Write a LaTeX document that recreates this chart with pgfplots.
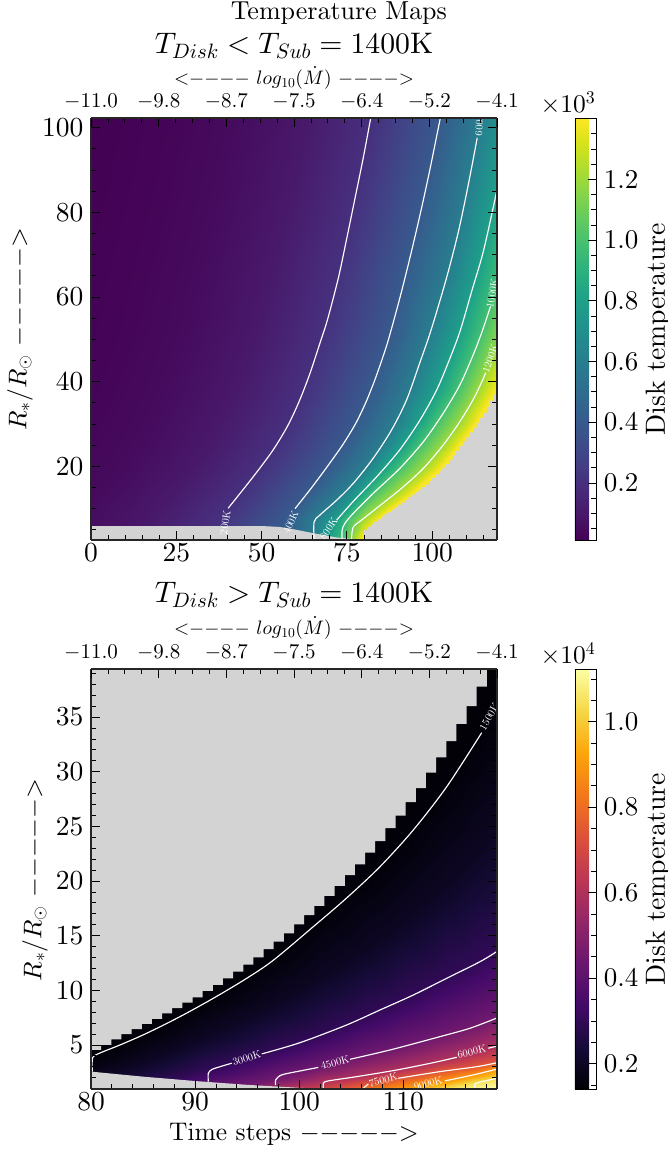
\RequirePackage{fix-cm}
\documentclass[border=0pt]{standalone}
\usepackage{pgfplots}
\pgfplotsset{compat=1.18}
\DeclareFontShape{OT1}{cmr}{m}{n}{<->cmr10}{}
\DeclareFontShape{OML}{cmm}{m}{it}{<->cmmi10}{}
\DeclareFontShape{OMS}{cmsy}{m}{n}{<->cmsy10}{}
\definecolor{bggray}{RGB}{211,211,211}
\pgfplotsset{colormap={inferno}{rgb255=(0,0,4) rgb255=(22,11,57) rgb255=(66,10,104) rgb255=(106,23,110) rgb255=(147,38,103) rgb255=(188,55,84) rgb255=(221,81,58) rgb255=(243,120,25) rgb255=(252,165,10) rgb255=(246,215,70) rgb255=(252,255,164)}}
\newcommand{\fs}[1]{\fontsize{#1}{#1}\usefont{OT1}{cmr}{m}{n}}
\newcommand{\dsh}{{-}}
\tikzset{clab/.style={white,font=\fs{10.5},inner sep=0pt}}
\pgfplotsset{
  panel/.style={
    scale only axis, width=406pt,
    tick align=inside,
    major tick length=9pt, minor tick length=5pt,
    every tick/.style={black,line width=0.9pt},
    minor tick style={black,line width=0.8pt},
    axis line style={line width=1.3pt,black!85},
    tick label style={font=\fs{27.5}},
    y tick label style={xshift=-4pt},
    label style={font=\fs{25.5}},
    title style={font=\fs{29.7}},
  },
  cbar/.style={
    colorbar, 
    colorbar style={
      at={(1.192,0)}, anchor=south west, width=21pt,
      tick align=inside, xtick=\empty,
      ytick pos=right, yticklabel pos=right,
      major tick length=8pt, minor tick length=5pt,
      every tick/.style={black,line width=0.8pt},
      minor tick style={black,line width=0.7pt},
      axis line style={line width=0.8pt},
      tick label style={font=\fs{27}},
      y tick label style={/pgf/number format/fixed,xshift=4.5pt},
      scaled y ticks=false,
      ylabel style={font=\fs{27.7},at={(axis description cs:3.95,0.5)},anchor=center,rotate=0},
      title style={font=\fs{25.5},at={(axis description cs:-0.33,1.0)},anchor=south,yshift=-6pt},
    }
  },
  cl/.style={white,line width=1.15pt,smooth,tension=0.5,no markers,forget plot},
  topax/.style={
    xmin=0,xmax=6,ymin=0,ymax=1,
    axis x line*=top, axis y line=none,
    xtick={0,1,2,3,4,5,6},
    xticklabels={$-11.0$,$-9.8$,$-8.7$,$-7.5$,$-6.4$,$-5.2$,$-4.1$},
    minor x tick num=3,
    x tick label style={font=\fs{21},yshift=5pt},
    xlabel={${<}\dsh\dsh\dsh\dsh$ $log_{10}(\dot{M})$ $\dsh\dsh\dsh\dsh{>}$},
  },
}
\begin{document}
\begin{tikzpicture}
\path[use as bounding box] (0pt,0pt) rectangle (668pt,1151pt);
\node[font=\fs{26}] at (339pt,1138pt) {Temperature Maps};

%====== TOP PANEL
\begin{axis}[panel, at={(91pt,611pt)}, anchor=south west, height=422pt,
  view={0}{90},
  xmin=0,xmax=119,ymin=2.6,ymax=102.3,
  xtick={0,25,50,75,100},
  minor xtick={5,10,15,20,30,35,40,45,55,60,65,70,80,85,90,95,105,110,115},
  ytick={20,40,60,80,100},
  minor ytick={5,10,15,25,30,35,45,50,55,65,70,75,85,90,95},
  xtick pos=lower, ytick pos=both, yticklabel pos=left,
  axis on top,
  title={$T_{Disk} < T_{Sub} = 1400$K},
  title style={at={(axis description cs:0.5,1.157)},anchor=center},
  ylabel={$R_{*}/R_{\odot}$ $\dsh\dsh\dsh\dsh\dsh{>}$},
  ylabel style={at={(axis description cs:-0.175,0.5)},anchor=center},
  colormap/viridis, point meta min=12, point meta max=1402,
  cbar,
  colorbar style={
    ytick={200,400,600,800,1000,1200},
    yticklabels={0.2,0.4,0.6,0.8,1.0,1.2},
    minor ytick={50,100,150,250,300,350,450,500,550,650,700,750,850,900,950,1050,1100,1150,1250,1300,1350},
    ylabel={Disk temperature},
    title={$\times 10^{3}$},
  },
]
\addplot3[surf,shader=interp,mesh/cols=13,forget plot] coordinates {
(-60,104.23,12)(3,104.23,12.5)(23,104.23,25)(43,104.23,50)(63,104.23,100)(83,104.23,200)(103,104.23,400)(115,104.23,600)(124,104.23,800)(131,104.23,1000)(135,104.23,1200)(139,104.23,1400)(149,104.23,1402)
(-60,92.9,12)(0,92.9,12.5)(20,92.9,25)(40,92.9,50)(60,92.9,100)(80,92.9,200)(100,92.9,400)(112.1,92.9,600)(121.3,92.9,800)(128.5,92.9,1000)(133,92.9,1200)(137,92.9,1400)(147,92.9,1402)
(-60,84.2,12)(-2.3,84.2,12.5)(17.7,84.2,25)(37.7,84.2,50)(57.7,84.2,100)(77.7,84.2,200)(97.7,84.2,400)(110,84.2,600)(118.7,84.2,800)(126,84.2,1000)(130.5,84.2,1200)(134.5,84.2,1400)(144.5,84.2,1402)
(-60,75,12)(-5.1,75,12.5)(14.9,75,25)(34.9,75,50)(54.9,75,100)(74.9,75,200)(94.9,75,400)(107.6,75,600)(116.2,75,800)(123.2,75,1000)(127.5,75,1200)(131.5,75,1400)(141.5,75,1402)
(-60,64.5,12)(-8.5,64.5,12.5)(11.5,64.5,25)(31.5,64.5,50)(51.5,64.5,100)(71.5,64.5,200)(91.5,64.5,400)(104.2,64.5,600)(112.7,64.5,800)(119.8,64.5,1000)(124,64.5,1200)(128,64.5,1400)(138,64.5,1402)
(-60,52,12)(-11.9,52,12.5)(8.1,52,25)(28.1,52,50)(48.1,52,100)(68.1,52,200)(88.1,52,400)(99.8,52,600)(108.2,52,800)(114.9,52,1000)(121,52,1200)(126,52,1400)(136,52,1402)
(-60,45.5,12)(-14.7,45.5,12.5)(5.3,45.5,25)(25.3,45.5,50)(45.3,45.5,100)(65.3,45.5,200)(85.3,45.5,400)(96.9,45.5,600)(105.2,45.5,800)(111.6,45.5,1000)(117.8,45.5,1200)(123,45.5,1400)(133,45.5,1402)
(-60,38,12)(-17.9,38,12.5)(2.1,38,25)(22.1,38,50)(42.1,38,100)(62.1,38,200)(82.1,38,400)(93.4,38,600)(101.3,38,800)(107.6,38,1000)(113.4,38,1200)(118.6,38,1400)(128.6,38,1402)
(-60,30.5,12)(-22.4,30.5,12.5)(-2.4,30.5,25)(17.6,30.5,50)(37.6,30.5,100)(58.2,30.5,200)(77.6,30.5,400)(89.3,30.5,600)(96.1,30.5,800)(101.5,30.5,1000)(108.1,30.5,1200)(113.2,30.5,1400)(123.2,30.5,1402)
(-60,25,12)(-25.8,25,12.5)(-5.8,25,25)(14.2,25,50)(34.2,25,100)(54.3,25,200)(74.2,25,400)(85.2,25,600)(91.4,25,800)(96.5,25,1000)(103.2,25,1200)(108.2,25,1400)(118.2,25,1402)
(-60,19.5,12)(-30.4,19.5,12.5)(-10.4,19.5,25)(9.6,19.5,50)(29.6,19.5,100)(49.5,19.5,200)(69.6,19.5,400)(80.3,19.5,600)(85.5,19.5,800)(90.5,19.5,1000)(97.4,19.5,1200)(102.7,19.5,1400)(112.7,19.5,1402)
(-60,13.6,12)(-36.8,13.6,12.5)(-16.8,13.6,25)(3.2,13.6,50)(23.2,13.6,100)(43.8,13.6,200)(63.2,13.6,400)(73.7,13.6,600)(78.9,13.6,800)(82.7,13.6,1000)(89.1,13.6,1200)(94.4,13.6,1400)(104.4,13.6,1402)
(-60,7.3,12)(-43,7.3,12.5)(-23,7.3,25)(-3,7.3,50)(17,7.3,100)(37,7.3,200)(57,7.3,400)(65.7,7.3,600)(72,7.3,800)(75.2,7.3,1000)(79.3,7.3,1200)(83.9,7.3,1400)(93.9,7.3,1402)
(-60,1.8,12)(-48,1.8,12.5)(-28,1.8,25)(-8,1.8,50)(12,1.8,100)(32,1.8,200)(52,1.8,400)(65.4,1.8,600)(69.6,1.8,800)(73.6,1.8,1000)(76.4,1.8,1200)(78.5,1.8,1400)(88.5,1.8,1402)
};
% grey: undefined cells
\addplot[fill=bggray,draw=none,const plot,forget plot] coordinates {
(76,1)(79,2.5)(80,5)(81,5.7)(82,6.3)(83,6.9)(84,7.5)(85,8.1)(86,8.7)(87,9.2)(88,9.8)(89,10.3)(90,10.9)(91,11.5)(92,12.1)(93,12.7)(94,13.3)(95,13.9)(96,14.5)(97,15.1)(98,15.7)(99,16.5)(100,17.3)(101,18.1)(102,18.9)(103,19.7)(104,20.5)(105,21.5)(106,22.6)(107,23.7)(108,24.8)(109,25.9)(110,26.9)(111,28)(112,29.1)(113,30.2)(114,31.4)(115,32.6)(116,34)(117,35.5)(118,37)(119,38.8)(121,38.8)(121,0)(76,0)};
\addplot[fill=bggray,draw=none,forget plot] coordinates {
(-1,5.9)(50,5.9)(55,5.7)(58.4,5.3)(65.2,4.2)(72,3.2)(76,2.9)(80,2.6)(80,0)(-1,0)};
% contours
\addplot[cl] coordinates {(40.2,10.1)(47.6,17.6)(53.4,23.9)(57.8,29.8)(61.2,35.7)(64.2,42)(67.1,49.1)(69.3,54.6)(72.5,64.5)(75,74)(77.4,83.4)(79.8,92.9)(82,102.34)(82.2,103)};
\addplot[cl] coordinates {(59.8,10)(64.7,15)(69.3,20)(73.7,25)(77.5,30)(80.5,35)(83,40)(85.2,45)(87.2,50)(90.6,60)(93.7,70)(96.6,80)(99.3,90)(102.4,102.3)(102.7,103)};
\addplot[cl] coordinates {(65.4,2.6)(65.4,6.9)(67.1,8.5)(72,12)(76.9,16)(82.7,21.9)(88.1,28.6)(92.5,35.7)(96.3,44.3)(99.6,52)(104.2,64.5)(107.7,75.5)(110.6,86.6)(113.2,97.6)};
\addplot[cl] coordinates {(72,7.3)(77.2,12)(83.7,17.5)(90.5,23.9)(96.4,30.9)(101.3,38)(105.2,45.5)(108.2,52)(111.6,61.4)(115,70.8)(118.7,84.2)(119.5,88)};
\addplot[cl] coordinates {(73.6,2.6)(73.6,4.9)(74.4,6.5)(76.9,8.9)(82.7,13.6)(90.5,19.5)(97.4,25.8)(103.2,32.5)(108.1,39.2)(112,46.3)(114.7,52)(117.1,57.8)};
\addplot[cl] coordinates {(76.4,2.6)(76.4,3.5)(76.9,5.7)(79.3,7.3)(83.7,10.1)(91,14.8)(97.4,19.5)(103.2,25)(108.1,30.55)(112.5,36.5)(115.7,42.1)};
\begin{scope}
\clip (axis cs:0,2.6) rectangle (axis cs:119,102.3);
\node[clab,rotate=80] at (axis cs:39.3,6.7) {200K};
\node[clab,rotate=65] at (axis cs:58.5,6.8) {400K};
\node[clab,rotate=85] at (axis cs:113.8,100.9) {600K};
\node[clab,rotate=55] at (axis cs:69.6,5.3) {800K};
\node[clab,rotate=80] at (axis cs:117.6,60.9) {1000K};
\node[clab,rotate=70] at (axis cs:117,45.5) {1200K};
\end{scope}
\end{axis}
\begin{axis}[panel, at={(91pt,611pt)}, anchor=south west, height=422pt, topax,
  xlabel style={font=\fs{19.5},at={(axis description cs:0.5,1.0948)},anchor=center},
]
\addplot[draw=none,forget plot] coordinates {(0,0)(6,1)};
\end{axis}

%====== BOTTOM PANEL
\begin{axis}[panel, at={(91pt,62pt)}, anchor=south west, height=420pt,
  view={0}{90},
  xmin=80,xmax=119,ymin=0.97,ymax=39.4,
  xtick={80,90,100,110},
  minor xtick={82,84,86,88,92,94,96,98,102,104,106,108,112,114,116,118},
  ytick={5,10,15,20,25,30,35},
  minor ytick={2,3,4,6,7,8,9,11,12,13,14,16,17,18,19,21,22,23,24,26,27,28,29,31,32,33,34,36,37,38,39},
  xtick pos=lower, ytick pos=both, yticklabel pos=left,
  axis on top,
  title={$T_{Disk} > T_{Sub} = 1400$K},
  title style={at={(axis description cs:0.5,1.162)},anchor=center},
  xlabel={Time steps $\dsh\dsh\dsh\dsh\dsh{>}$},
  xlabel style={at={(axis description cs:0.5,-0.107)},anchor=center},
  ylabel={$R_{*}/R_{\odot}$ $\dsh\dsh\dsh\dsh\dsh{>}$},
  ylabel style={at={(axis description cs:-0.138,0.498)},anchor=center},
  colormap name=inferno, point meta min=1408, point meta max=11233,
  cbar,
  colorbar style={
    ytick={2000,4000,6000,8000,10000},
    yticklabels={0.2,0.4,0.6,0.8,1.0},
    minor ytick={1500,2500,3000,3500,4500,5000,5500,6500,7000,7500,8500,9000,9500,10500,11000},
    ylabel={Disk temperature},
    title={$\times 10^{4}$},
  },
]
\addplot3[surf,shader=interp,mesh/cols=10,forget plot] coordinates {
(79.5,-6,11233)(85,-6,11233)(91.27,-6,11233)(97.74,-6,11233)(102.32,-6,11233)(106.2,-6,11233)(110,-6,11233)(114,-6,11233)(116.89,-6,11233)(119.5,-6,11233)
(79.5,-4,11233)(85,-3.5,11233)(91.27,-3,11233)(97.74,-2.5,11233)(102.32,-2,11233)(106.2,-1.5,11233)(110,-0.5,11233)(114,0.3,11233)(116.89,0.8,11233)(119.5,1.2,11233)
(79.5,-3,10500)(85,-2.4,10500)(91.27,-1.7,10500)(97.74,-1,10500)(102.32,-0.5,10500)(106.2,0,10500)(110,0.5,10500)(114,1,10500)(116.89,1.55,10500)(119.5,2,10500)
(79.5,-2.5,9000)(85,-1.9,9000)(91.27,-1.2,9000)(97.74,-0.5,9000)(102.32,0,9000)(106.2,0.6,9000)(110,1.1,9000)(114,1.7,9000)(116.89,2.25,9000)(119.5,2.9,9000)
(79.5,-2,7500)(85,-1.4,7500)(91.27,-0.7,7500)(97.74,0,7500)(102.32,0.6,7500)(106.2,1.3,7500)(110,2,7500)(114,2.6,7500)(116.89,3,7500)(119.5,3.45,7500)
(79.5,-1.5,6000)(85,-0.8,6000)(91.27,0,6000)(97.74,0.9,6000)(102.32,1.6,6000)(106.2,2.2,6000)(110,2.8,6000)(114,3.6,6000)(116.89,4.3,6000)(119.5,5,6000)
(79.5,-1,4500)(85,-0.2,4500)(91.27,0.6,4500)(97.74,1.9,4500)(102.32,3,4500)(106.2,3.95,4500)(110,4.85,4500)(114,5.9,4500)(116.89,6.8,4500)(119.5,7.7,4500)
(79.5,0,3000)(85,1,3000)(91.27,2.8,3000)(97.74,4.6,3000)(102.32,6,3000)(106.2,7.55,3000)(110,9.15,3000)(114,11,3000)(116.89,12.4,3000)(119.5,13.9,3000)
(79.5,1.68,2000)(85,3.38,2000)(91.27,5.78,2000)(97.74,8.66,2000)(102.32,11.18,2000)(106.2,13.48,2000)(110,16.09,2000)(114,19.35,2000)(116.89,22,2000)(119.5,24.89,2000)
(79.5,3.5,1500)(85,5.95,1500)(91.27,9,1500)(97.74,13.05,1500)(102.32,16.8,1500)(106.2,19.9,1500)(110,23.6,1500)(114,28.4,1500)(116.89,32.4,1500)(119.5,36.8,1500)
(79.5,45,1408)(85,45,1408)(91.27,45,1408)(97.74,45,1408)(102.32,45,1408)(106.2,45,1408)(110,45,1408)(114,45,1408)(116.89,45,1408)(119.5,45,1408)
};
% grey: undefined cells
\addplot[fill=bggray,draw=none,const plot,forget plot] coordinates {
(80,4.54)(80.975,5.0)(81.95,5.52)(82.925,6.0)(83.9,6.44)(84.875,6.92)(85.85,7.38)(86.825,7.9)(87.8,8.36)(88.775,8.87)(89.75,9.36)(90.725,9.94)(91.7,10.49)(92.675,11.1)(93.65,11.71)(94.625,12.35)(95.6,13.02)(96.575,13.76)(97.55,14.45)(98.525,15.22)(99.5,16.04)(100.475,16.87)(101.45,17.72)(102.425,18.63)(103.4,19.55)(104.375,20.55)(105.35,21.53)(106.325,22.59)(107.3,23.66)(108.275,24.83)(109.25,25.98)(110.225,27.23)(111.2,28.51)(112.175,29.91)(113.15,31.32)(114.125,32.81)(115.1,34.37)(116.075,36.01)(117.05,37.78)(118.025,41)(79,41)(79,4.54)};
\addplot[black,line width=0.7pt,forget plot] coordinates {(80,5.0)(80.975,5.0)};
\addplot[fill=bggray,draw=none,forget plot] coordinates {
(79,2.6)(80,2.56)(85,2.1)(90,1.7)(95,1.35)(100,1.08)(103,0.97)(103,0)(79,0)};
% contours
\addplot[cl] coordinates {(80.12,2.56)(80.12,3.63)(80.3,4)(81.18,4.39)(82.79,5)(85.35,6.07)(88.55,7.59)(91.75,9.27)(94.96,11.1)(97.51,12.75)(101.35,15.82)(104.56,18.45)(107.76,21.31)(110.96,24.67)(114.17,28.63)(117.53,33.57)};
\addplot[cl] coordinates {(91.27,1.64)(91.27,2.41)(91.62,2.76)(92.39,3.01)(93.52,3.33)};
\addplot[cl] coordinates {(96.4,4.18)(100.08,5.21)(104.56,6.83)(107.76,8.2)(110.96,9.57)(114.17,11.1)(117.37,12.62)(118.97,13.54)};
\addplot[cl] coordinates {(97.74,1.34)(97.74,1.8)(98.32,2.26)(100.08,2.62)(101.83,2.94)};
\addplot[cl] coordinates {(104.88,3.69)(108.72,4.54)(113.52,5.76)(116.41,6.53)(119,7.47)};
\addplot[cl] coordinates {(102.32,1.04)(102.32,1.5)(102.8,1.71)(105.52,2.1)(109.37,2.71)(112.88,3.38)(115.13,3.87)};
\addplot[cl] coordinates {(118.17,4.7)(119.03,4.91)};
\addplot[cl] coordinates {(106.16,1.04)(106.64,1.43)};
\addplot[cl] coordinates {(109.52,1.95)(113.52,2.56)(117.05,3.01)(119.03,3.38)};
\addplot[cl] coordinates {(114,1.71)(116.73,2.26)(119.03,2.8)};
\addplot[cl] coordinates {(116.89,1.04)(116.89,1.43)(117.53,1.64)(119.03,1.95)};
\begin{scope}
\clip (axis cs:80,0.97) rectangle (axis cs:119,39.4);
\node[clab,rotate=60] at (axis cs:118.26,35.04) {1500K};
\node[clab,rotate=17] at (axis cs:94.96,3.78) {3000K};
\node[clab,rotate=15] at (axis cs:103.44,3.38) {4500K};
\node[clab,rotate=13] at (axis cs:116.57,4.39) {6000K};
\node[clab,rotate=15] at (axis cs:108.08,1.8) {7500K};
\node[clab,rotate=15] at (axis cs:112.4,1.5) {9000K};
\end{scope}
\end{axis}
\begin{axis}[panel, at={(91pt,62pt)}, anchor=south west, height=420pt, topax,
  xlabel style={font=\fs{19.5},at={(axis description cs:0.5,1.0976)},anchor=center},
]
\addplot[draw=none,forget plot] coordinates {(0,0)(6,1)};
\end{axis}
\end{tikzpicture}
\end{document}
